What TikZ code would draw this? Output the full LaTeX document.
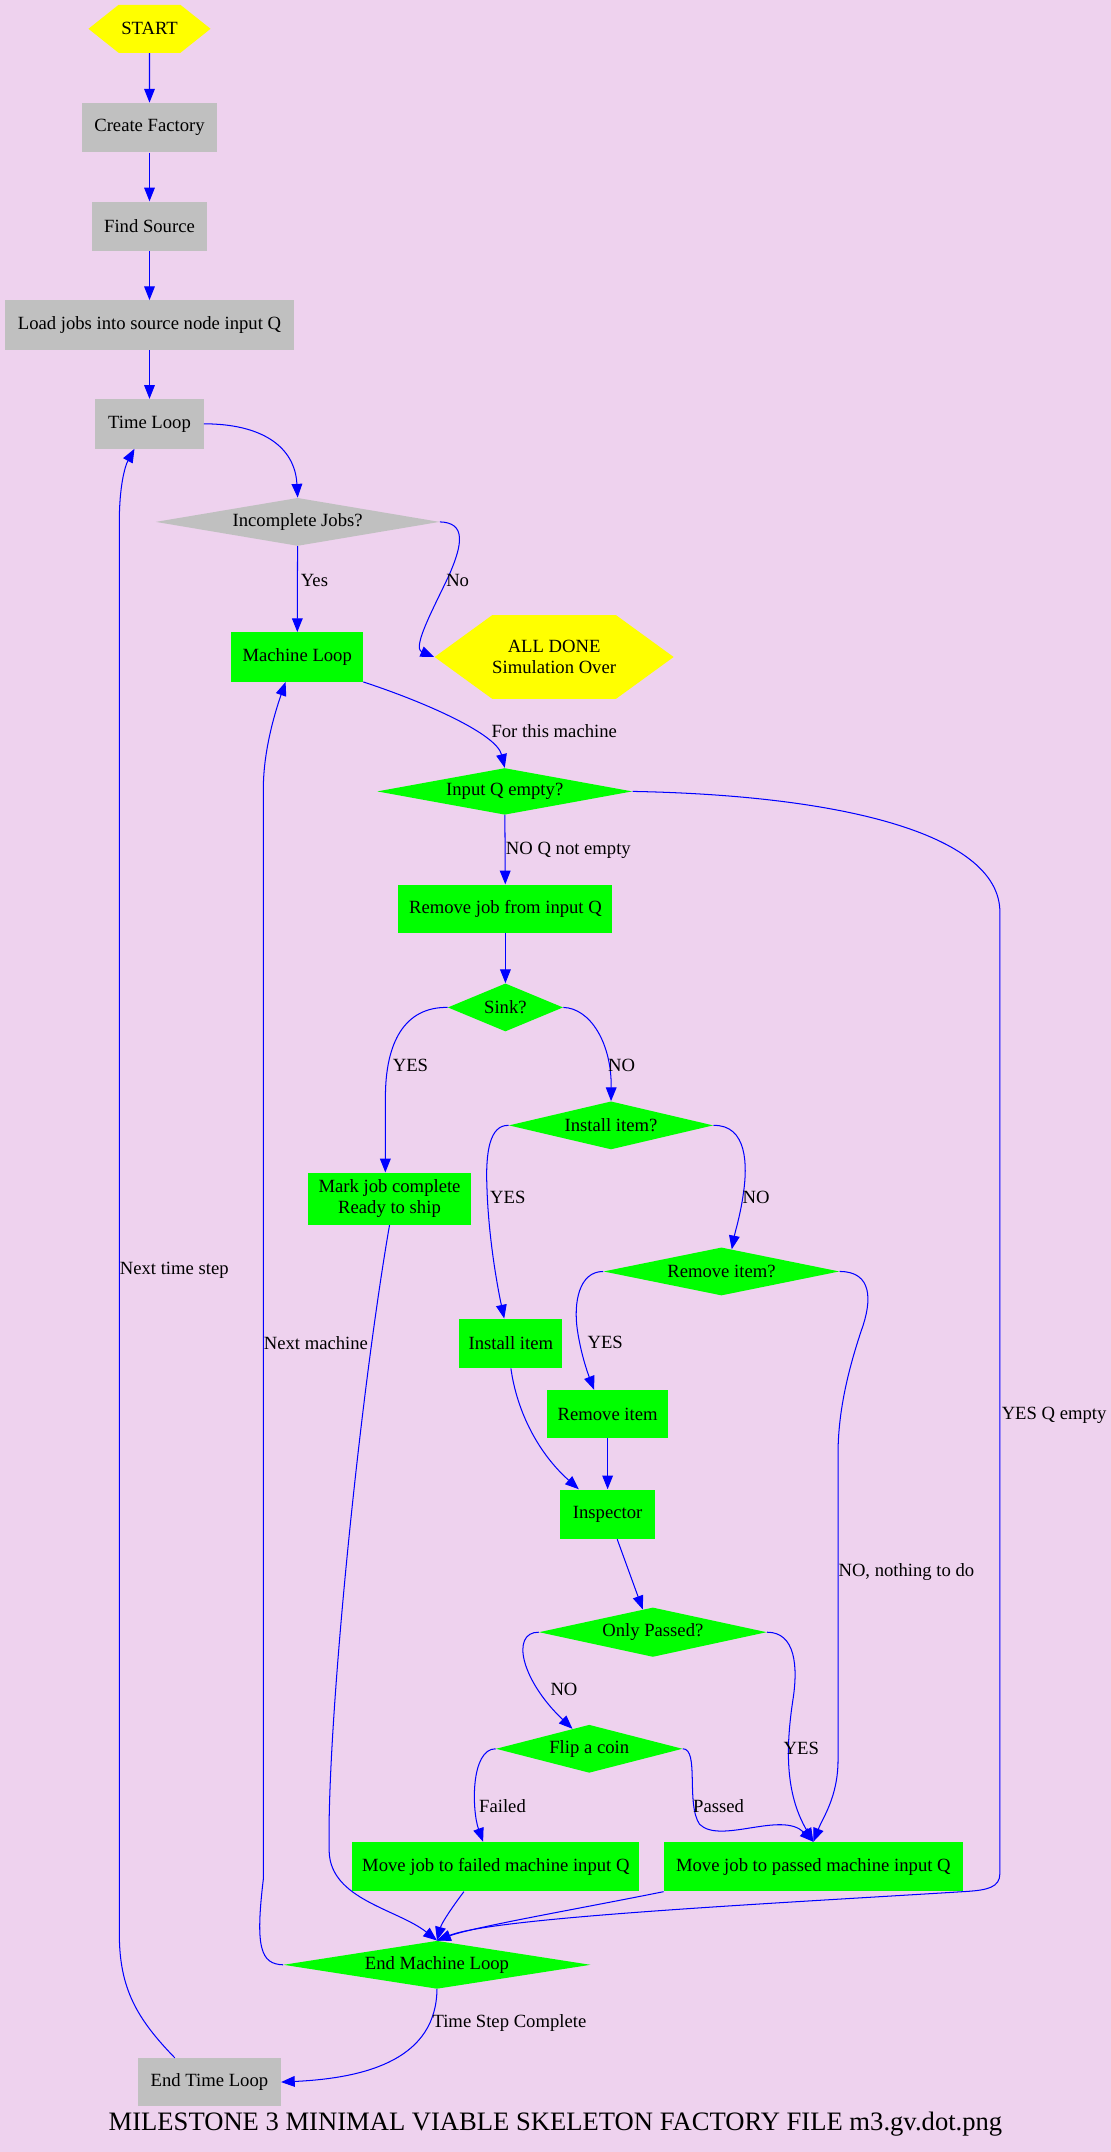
\documentclass[tikz,border=0pt]{standalone}
\usepackage{fontspec}
\setmainfont{Liberation Serif}
\usetikzlibrary{arrows.meta,shapes.geometric,shapes.symbols}
\definecolor{bgpink}{RGB}{238,210,238}
\definecolor{boxgray}{RGB}{192,192,192}
\definecolor{boxgreen}{RGB}{0,255,0}
\definecolor{hexyellow}{RGB}{255,255,0}
\definecolor{edgeblue}{RGB}{0,0,255}

\begin{document}
\begin{tikzpicture}[
                        x=1pt, y=-1pt,
                        node distance=72pt,
                        >={Triangle[length=10pt,width=7.8pt]},
                        every node/.style={font=\fontsize{13.6}{15.5}\selectfont},
                        graybox/.style={rectangle, fill=boxgray, minimum height=36pt, inner sep=0pt},
                        greenbox/.style={rectangle, fill=boxgreen, minimum height=36pt, inner sep=0pt},
                        graydiamond/.style={diamond, fill=boxgray, inner sep=0pt, minimum height=35pt},
                        greendiamond/.style={diamond, fill=boxgreen, inner sep=0pt, minimum height=35pt},
                        hexnode/.style={signal, signal to=west and east, fill=hexyellow, inner sep=0pt, align=center},
                        flow/.style={draw=edgeblue, line width=0.75pt, ->},
                        lbl/.style={anchor=west, inner sep=0pt}
                    ]
                    \fill[bgpink] (0,0) rectangle (810,1569);
                    \useasboundingbox (0,0) rectangle (810,1569);

                    % Blocks
                    \node [hexnode, minimum width=89pt, minimum height=35pt, signal pointer angle=77] (start) at (109,21) {START};
                    \node [graybox, minimum width=98pt, below of=start] (create) {Create Factory};
                    \node [graybox, minimum width=84pt, below of=create] (source) {Find Source};
                    \node [graybox, minimum width=211pt, below of=source] (loadjobs) {Load jobs into source node input Q};
                    \node [graybox, minimum width=79pt, below of=loadjobs] (timeloop) {Time Loop};
                    \node [graydiamond, aspect=5.9, minimum width=207pt] (incomplete) at (217,380.5) {Incomplete Jobs?};
                    \node [greenbox, minimum width=96pt] (machloop) at (216.7,479) {Machine Loop};
                    \node [hexnode, minimum width=169pt, minimum height=61pt, signal pointer angle=72] (alldone) at (404,479) {ALL DONE\\Simulation Over};
                    \node [greendiamond, aspect=5.5, minimum width=186pt, minimum height=34pt] (inputq) at (368,577) {Input Q empty?};
                    \node [greenbox, minimum width=156pt, minimum height=35pt] (removejob) at (368.5,662.5) {Remove job from input Q};
                    \node [greendiamond, aspect=2.4, minimum width=84pt] (sink) at (368.5,734.5) {Sink?};
                    \node [greendiamond, aspect=4.3, minimum width=149pt] (installq) at (445.5,820.5) {Install item?};
                    \node [greenbox, minimum width=119pt, minimum height=38pt, align=center] (markdone) at (284,874) {Mark job complete\\Ready to ship};
                    \node [greendiamond, aspect=4.8, minimum width=172pt] (removeq) at (526,927) {Remove item?};
                    \node [greenbox, minimum width=75pt] (installitem) at (372.5,979.5) {Install item};
                    \node [greenbox, minimum width=88pt, minimum height=35pt] (removeitem) at (443,1031) {Remove item};
                    \node [greenbox, minimum width=69pt] (inspector) at (443,1104) {Inspector};
                    \node [greendiamond, aspect=4.6, minimum width=166pt, minimum height=36pt] (onlypassed) at (476,1190) {Only Passed?};
                    \node [greendiamond, aspect=3.8, minimum width=136pt] (coin) at (429.6,1275) {Flip a coin};
                    \node [greenbox, minimum width=209pt] (movefailed) at (361.5,1361) {Move job to failed machine input Q};
                    \node [greenbox, minimum width=218pt] (movepassed) at (593,1361) {Move job to passed machine input Q};
                    \node [greendiamond, aspect=6.3, minimum width=224pt] (endmach) at (318.6,1432.5) {End Machine Loop};
                    \node [graybox, minimum width=104pt, minimum height=35pt] (endtime) at (152.7,1518) {End Time Loop};
                    \node [font=\fontsize{19.4}{22}\selectfont] (title) at (405,1549) {MILESTONE 3 MINIMAL VIABLE SKELETON FACTORY FILE m3.gv.dot.png};

                    % Connections
                    \draw [flow] (start) -- (create);
                    \draw [flow] (create) -- (source);
                    \draw [flow] (source) -- (loadjobs);
                    \draw [flow] (loadjobs) -- (timeloop);
                    \draw [flow] (timeloop.east) .. controls (190,309) and (215,325) .. (incomplete.north);
                    \draw [flow] (incomplete) -- (machloop) node[lbl] at (219,423) {Yes};
                    \draw [flow] (incomplete.east) .. controls (340,381) and (337,397) .. (328,418)
                        .. controls (318,440) and (300,472) .. (alldone.west) node[lbl] at (325,423) {No};
                    \draw [flow] (machloop.south east) .. controls (310,512) and (362,535) .. (inputq.north)
                        node[lbl] at (358,533) {For this machine};
                    \draw [flow] (inputq) -- (removejob) node[lbl] at (368.5,620) {NO Q not empty};
                    \draw [flow] (inputq.east) .. controls (620,580) and (729,610) .. (729,665) -- (729,1366)
                        .. controls (729,1376) and (720,1378) .. (705,1379)
                        .. controls (560,1388) and (360,1398) .. (endmach.north) node[lbl] at (730,1032) {YES Q empty};
                    \draw [flow] (removejob) -- (sink);
                    \draw [flow] (sink.west) .. controls (295,734) and (281,760) .. (281,800) -- (markdone.99)
                        node[lbl] at (286,777) {YES};
                    \draw [flow] (sink.east) .. controls (430,735) and (446,760) .. (installq.north)
                        node[lbl] at (443,777) {NO};
                    \draw [flow] (installq.west) .. controls (357,820) and (354,840) .. (355,865)
                        .. controls (356,900) and (362,935) .. (installitem.105) node[lbl] at (357,873) {YES};
                    \draw [flow] (installq.east) .. controls (545,820) and (545,850) .. (542,870)
                        .. controls (540,885) and (536,898) .. (removeq.65) node[lbl] at (541,873) {NO};
                    \draw [flow] (removeq.west) .. controls (422,927) and (418,950) .. (421,970)
                        .. controls (424,990) and (430,1005) .. (removeitem.119) node[lbl] at (428,979) {YES};
                    \draw [flow] (removeq.east) .. controls (636,927) and (636,948) .. (628,970)
                        .. controls (618,1000) and (611,1030) .. (611,1060) -- (611,1283)
                        .. controls (611,1310) and (600,1325) .. (movepassed.north) node[lbl] at (611,1146) {NO, nothing to do};
                    \draw [flow] (installitem.south) .. controls (377,1030) and (393,1060) .. (inspector.139);
                    \draw [flow] (removeitem) -- (inspector);
                    \draw [flow] (inspector.-69) -- (onlypassed.114);
                    \draw [flow] (onlypassed.west) .. controls (372,1190) and (380,1225) .. (coin.130)
                        node[lbl] at (401,1232) {NO};
                    \draw [flow] (onlypassed.east) .. controls (580,1190) and (582,1215) .. (578,1240)
                        .. controls (572,1280) and (574,1310) .. (movepassed.north) node[lbl] at (571,1275) {YES};
                    \draw [flow] (coin.west) .. controls (343,1275) and (344,1320) .. (movefailed.117)
                        node[lbl] at (349,1317) {Failed};
                    \draw [flow] (coin.east) .. controls (510,1275) and (500,1315) .. (510,1330)
                        .. controls (525,1345) and (570,1320) .. (movepassed.north) node[lbl] at (505,1317) {Passed};
                    \draw [flow] (markdone.south) .. controls (262,1020) and (238,1260) .. (240,1350)
                        .. controls (241,1385) and (290,1392) .. (endmach.north);
                    \draw [flow] (movefailed.-142) .. controls (330,1390) and (322,1402) .. (endmach.north);
                    \draw [flow] (movepassed.south west) .. controls (420,1392) and (345,1405) .. (endmach.north);
                    \draw [flow] (endmach.west) .. controls (190,1432) and (186,1420) .. (192,1370) -- (192,575)
                        .. controls (192,545) and (202,515) .. (machloop.-115) node[lbl] at (192,979) {Next machine};
                    \draw [flow] (endmach.south) .. controls (318,1500) and (270,1515) .. (endtime.east)
                        node[lbl] at (315,1475) {Time Step Complete};
                    \draw [flow] (endtime.145) .. controls (100,1472) and (87,1450) .. (87,1410) -- (87,380)
                        .. controls (87,355) and (91,340) .. (timeloop.-121) node[lbl] at (87,926) {Next time step};
                \end{tikzpicture}
\end{document}
